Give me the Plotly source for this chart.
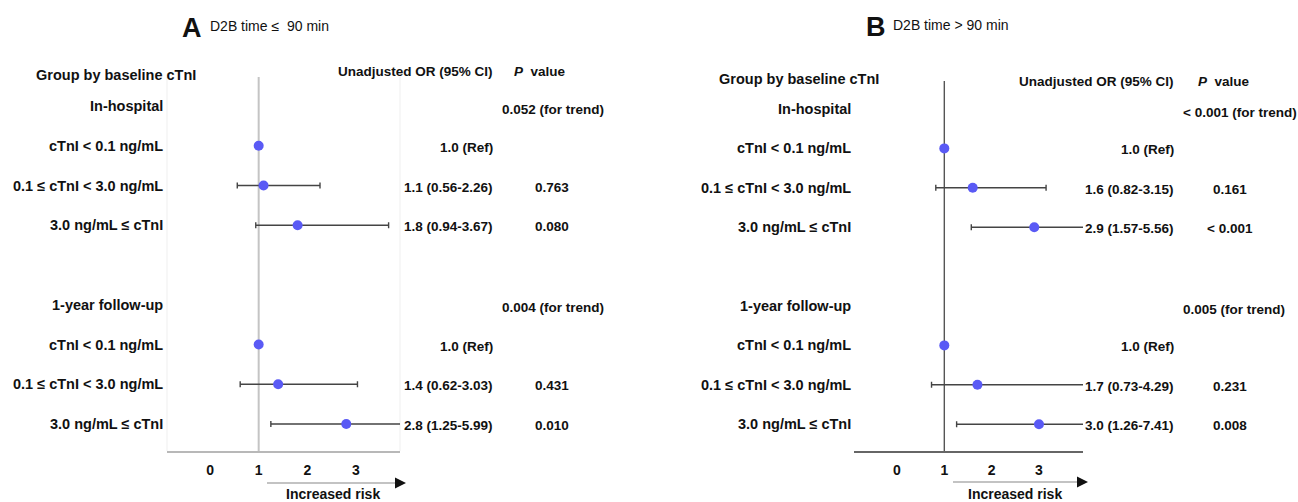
import math
import plotly.graph_objects as go

W, H = 1298, 502

# Row labels (left column) and the vertical slot each row occupies
group_headers = ["In-hospital", "1-year follow-up"]
group_slots = [0, 5]
level_labels = ["cTnI < 0.1 ng/mL", "0.1 \u2264 cTnI < 3.0 ng/mL", "3.0 ng/mL \u2264 cTnI"]
level_slots = [1, 2, 3, 6, 7, 8]

# Panel A: D2B time <= 90 min
a_or = [1.0, 1.1, 1.8, 1.0, 1.4, 2.8]
a_lo = [None, 0.56, 0.94, None, 0.62, 1.25]
a_hi = [None, 2.26, 3.67, None, 3.03, 5.99]
a_p = ["", "0.763", "0.080", "", "0.431", "0.010"]
a_trend = ["0.052 (for trend)", "0.004 (for trend)"]

# Panel B: D2B time > 90 min
b_or = [1.0, 1.6, 2.9, 1.0, 1.7, 3.0]
b_lo = [None, 0.82, 1.57, None, 0.73, 1.26]
b_hi = [None, 3.15, 5.56, None, 4.29, 7.41]
b_p = ["", "0.161", "< 0.001", "", "0.231", "0.008"]
b_trend = ["< 0.001 (for trend)", "0.005 (for trend)"]

x_ticks = [0, 1, 2, 3]

FONT = "Liberation Sans, Arial, Helvetica, sans-serif"
INK = "#111111"
DOT = "#5a5af5"

panels = [
    dict(key="", letter="A", sub="D2B time \u2264\u00a0 90 min",
         orv=a_or, lo=a_lo, hi=a_hi, p=a_p, trend=a_trend,
         xpx=(167, 400), xrange=(-0.884, 3.904), ypx=(77, 451), slot0=106, step=39.75,
         label_r=165, group_l=34, group_y=75, letter_x=192, letter_y=28, sub_l=208, sub_y=26,
         or_r=495, p_c=552, trend_l=500, head_y=72, pval_l=512,
         arrow=(267, 406, 483), risk=(333, 494),
         ref_col="#c4c4c4", ref_w=2, axis_col="#b8b8b8", edges=True),
    dict(key="2", letter="B", sub="D2B time > 90 min",
         orv=b_or, lo=b_lo, hi=b_hi, p=b_p, trend=b_trend,
         xpx=(854, 1083), xrange=(-0.908, 3.93), ypx=(81, 451), slot0=109, step=39.4,
         label_r=853, group_l=717, group_y=79, letter_x=876, letter_y=27, sub_l=891, sub_y=25,
         or_r=1176, p_c=1230, trend_l=1181, head_y=82, pval_l=1196,
         arrow=(953, 1088, 482), risk=(1015, 494),
         ref_col="#555555", ref_w=1.4, axis_col="#666666", edges=False),
]

fig = go.Figure()
annotations = []
shapes = []


def txt(text, x, y, anchor, size, yref="paper", bold=True, italic=False):
    annotations.append(dict(
        text=text, x=x / W, y=y if yref != "paper" else 1 - y / H,
        xref="paper", yref=yref, xanchor=anchor, yanchor="middle",
        showarrow=False,
        font=dict(family=FONT, size=size, color=INK,
                  weight="bold" if bold else "normal",
                  style="italic" if italic else "normal"),
    ))


for pn in panels:
    k = pn["key"]
    xa, ya = "xaxis" + k, "yaxis" + k
    xr, yr = "x" + k, "y" + k
    top_slot = (pn["ypx"][0] - pn["slot0"]) / pn["step"]
    bot_slot = (pn["ypx"][1] - pn["slot0"]) / pn["step"]

    fig.update_layout({
        xa: dict(domain=[pn["xpx"][0] / W, pn["xpx"][1] / W], range=list(pn["xrange"]),
                 anchor=yr, tickvals=x_ticks, ticktext=[str(t) for t in x_ticks],
                 showgrid=False, zeroline=False, showline=True, linecolor=pn["axis_col"],
                 linewidth=1.5, ticks="", ticklabelstandoff=5,
                 tickfont=dict(family=FONT, size=14, color=INK, weight="bold"), fixedrange=True),
        ya: dict(domain=[1 - pn["ypx"][1] / H, 1 - pn["ypx"][0] / H],
                 range=[bot_slot, top_slot], anchor=xr, visible=False, fixedrange=True),
    })

    # faint plot-area edges
    if pn["edges"]:
        for xd in (0, 1):
            shapes.append(dict(type="line", xref=xr + " domain", yref=yr + " domain",
                               x0=xd, x1=xd, y0=0, y1=1, layer="below",
                               line=dict(color="#efefef", width=1)))

    # reference line at OR = 1
    shapes.append(dict(type="line", xref=xr, yref=yr + " domain", x0=1, x1=1, y0=0, y1=1,
                       layer="below", line=dict(color=pn["ref_col"], width=pn["ref_w"])))

    plus = [(h - o) if h is not None else float("nan") for o, h in zip(pn["orv"], pn["hi"])]
    minus = [(o - l) if l is not None else float("nan") for o, l in zip(pn["orv"], pn["lo"])]
    fig.add_trace(go.Scatter(
        x=pn["orv"], y=level_slots, mode="markers", xaxis=xr, yaxis=yr,
        marker=dict(color=DOT, size=10, line=dict(width=0)),
        error_x=dict(type="data", symmetric=False, array=plus, arrayminus=minus,
                     color="#444444", thickness=1.4, width=3),
        cliponaxis=True, showlegend=False, hoverinfo="skip",
    ))

    # headings
    txt(pn["letter"], pn["letter_x"], pn["letter_y"], "center", 27)
    txt(pn["sub"], pn["sub_l"], pn["sub_y"], "left", 14, bold=False)
    txt("Group by baseline cTnI", pn["group_l"], pn["group_y"], "left", 14.5)
    txt("Unadjusted OR (95% CI)", pn["or_r"], pn["head_y"], "right", 13.5)
    txt("<i>P</i>\u00a0 value", pn["pval_l"], pn["head_y"], "left", 13.5)

    # left-column labels and trend P values
    for gi, (g, s) in enumerate(zip(group_headers, group_slots)):
        txt(g, pn["label_r"], s, "right", 14.5, yref=yr)
        txt(pn["trend"][gi], pn["trend_l"], s + 0.08, "left", 13.5, yref=yr)
    for i, s in enumerate(level_slots):
        txt(level_labels[i % 3], pn["label_r"], s, "right", 14.5, yref=yr)
        if pn["lo"][i] is None:
            ortxt = f"{pn['orv'][i]:.1f} (Ref)"
        else:
            ortxt = f"{pn['orv'][i]:.1f} ({pn['lo'][i]:.2f}-{pn['hi'][i]:.2f})"
        txt(ortxt, pn["or_r"], s + 0.04, "right", 13.5, yref=yr)
        if pn["p"][i]:
            txt(pn["p"][i], pn["p_c"], s + 0.04, "center", 13.5, yref=yr)

    # increased-risk arrow: grey shaft with a solid black head
    x0, x1, ay = pn["arrow"]
    shapes.append(dict(type="line", xref="paper", yref="paper",
                       x0=x0 / W, x1=(x1 - 8) / W, y0=1 - ay / H, y1=1 - ay / H,
                       line=dict(color="#888888", width=1.2)))
    annotations.append(dict(x=x1 / W, y=1 - ay / H, ax=-12, ay=0,
                            xref="paper", yref="paper", axref="pixel", ayref="pixel",
                            text="", showarrow=True, arrowhead=2, arrowsize=2.2,
                            arrowwidth=1, arrowcolor="#111111"))
    txt("Increased risk", pn["risk"][0], pn["risk"][1], "center", 14)

fig.update_layout(
    width=W, height=H, margin=dict(l=0, r=0, t=0, b=0),
    paper_bgcolor="white", plot_bgcolor="white",
    annotations=annotations, shapes=shapes, showlegend=False,
    font=dict(family=FONT, color=INK),
)

fig.write_html("out.html", config={"displayModeBar": False})
